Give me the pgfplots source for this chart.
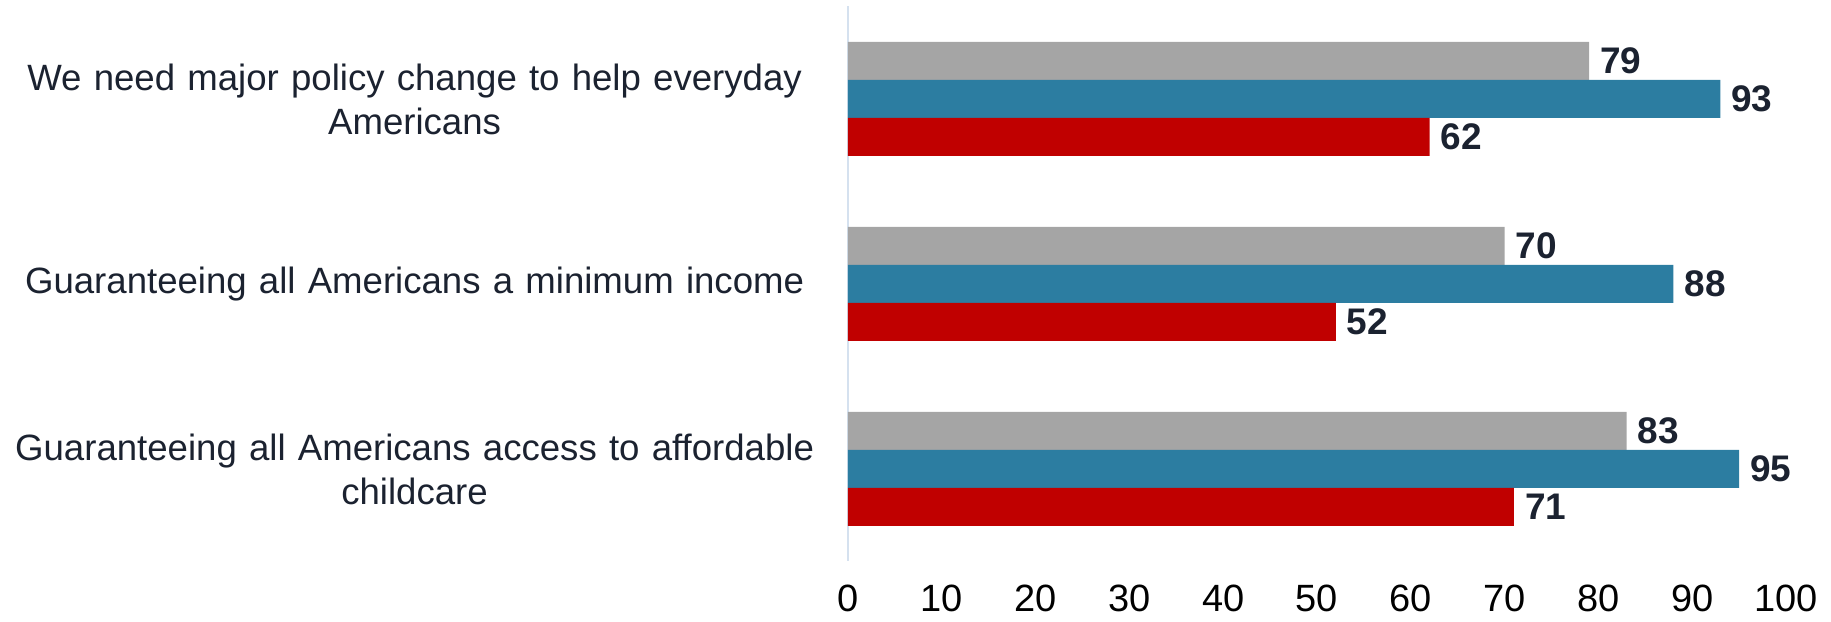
\documentclass[border=0pt]{standalone}
\usepackage{pgfplots}
\pgfplotsset{compat=1.18}
\usepackage{fontspec}
\setmainfont{Liberation Sans}
\definecolor{cgray}{HTML}{A5A5A5}
\definecolor{cblue}{HTML}{2C7DA1}
\definecolor{cred}{HTML}{C00000}
\definecolor{ctext}{HTML}{1B2230}
\definecolor{caxis}{HTML}{D5E1EF}
\begin{document}
\begin{tikzpicture}
\begin{axis}[
  xbar,
  scale only axis,
  width=469pt, height=277.5pt,
  xmin=0, xmax=100, ymin=-0.5, ymax=2.5,
  y dir=reverse,
  axis y line*=left,
  axis x line*=bottom,
  x axis line style={draw=none},
  y axis line style={draw=caxis, line width=0.8pt},
  major tick length=0pt,
  xtick={0,10,...,100},
  ytick={0,1,2},
  yticklabels={{We need major policy change to help everyday\\Americans},
               {Guaranteeing all Americans a minimum income},
               {Guaranteeing all Americans access to affordable\\childcare}},
  yticklabel style={text width=420pt, align=center, inner sep=0pt, anchor=east,
    xshift=-6.5pt, font=\fontsize{18.3}{22}\selectfont, text=ctext},
  xticklabel style={font=\fontsize{19}{22}\selectfont, text=black, yshift=-8pt,
    /pgf/number format/assume math mode=true},
  bar width=19pt,
  nodes near coords,
  nodes near coords style={font=\bfseries\fontsize{18.5}{22}\selectfont, text=ctext,
    anchor=west, xshift=2pt, /pgf/number format/assume math mode=true},
  clip=false,
]
\addplot[fill=cgray, draw=none, bar shift=19pt] coordinates {(79,0) (70,1) (83,2)};
\addplot[fill=cblue, draw=none, bar shift=0pt] coordinates {(93,0) (88,1) (95,2)};
\addplot[fill=cred, draw=none, bar shift=-19pt] coordinates {(62,0) (52,1) (71,2)};
\coordinate (sw) at (rel axis cs:0,0);
\coordinate (ne) at (rel axis cs:1,1);
\end{axis}
\pgfresetboundingbox
\path[use as bounding box] ([xshift=-424pt,yshift=-30.25pt]sw) rectangle ([xshift=22.5pt,yshift=3.25pt]ne);
\end{tikzpicture}
\end{document}
